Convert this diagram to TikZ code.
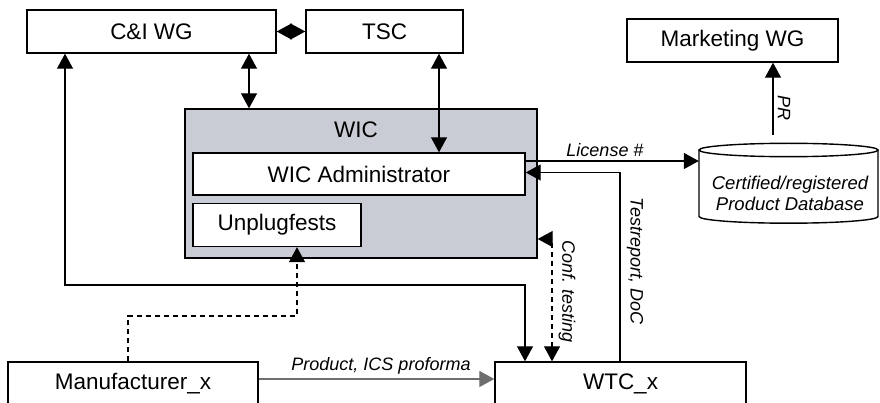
\documentclass[tikz,border=0pt]{standalone}
\usepackage{fontspec}
\setmainfont{Liberation Sans}
\usetikzlibrary{arrows.meta}
\definecolor{wicgray}{RGB}{201,204,212}
\definecolor{prodgray}{RGB}{110,110,110}
\begin{document}
\begin{tikzpicture}[x=1pt,y=-1pt,
  box/.style={draw, line width=1.4pt, fill=white, inner sep=0pt, minimum height=43pt,
    font=\fontsize{22.5}{26}\selectfont},
  conn/.style={line width=1.2pt, >={Triangle[length=15pt,width=16pt]}},
  dsh/.style={conn, dash pattern=on 5pt off 4pt},
  lbl/.style={font=\fontsize{18}{21}\selectfont\itshape, inner sep=0pt}]
\useasboundingbox (0,0) rectangle (880,403);
\clip (0,0) rectangle (880,403);

% boxes
\node[box, minimum width=249pt] (ci) at (151.5,31.5) {C\&I WG};
\node[box, minimum width=157pt] (tsc) at (384.5,31.5) {TSC};
\node[box, minimum width=211pt] (mkt) at (732.5,40.5) {Marketing WG};
\node[draw, line width=1.4pt, fill=wicgray, inner sep=0pt, minimum width=352pt, minimum height=149pt] (wic) at (361,183.5) {};
\node[font=\fontsize{22.5}{26}\selectfont, inner sep=0pt] (wiclbl) at (356,130) {WIC};
\node[box, minimum width=332pt, minimum height=42pt] (adm) at (359,174) {WIC Administrator};
\node[box, minimum width=168pt] (unp) at (277,225) {Unplugfests};
\node[box, minimum width=250pt] (man) at (133,383.5) {Manufacturer\_x};
\node[box, minimum width=251pt] (wtc) at (620.5,383.5) {WTC\_x};

% database cylinder
\node[inner sep=0pt, minimum width=179pt, minimum height=80pt] (db) at (788.5,183) {};
\draw[line width=1.4pt, fill=white] (699,150) -- (699,216.5)
  arc[start angle=180, end angle=0, x radius=89.5, y radius=6.7] -- (878,150);
\draw[line width=1.4pt] (788.5,150) ellipse [x radius=89.5, y radius=6.7];
\node[font=\fontsize{18.5}{21}\selectfont\itshape, align=center, inner sep=0pt] (dbtxt) at (790,193.5)
  {Certified/registered\\Product Database};

% helper coordinates
\coordinate (a1) at (439,0);
\coordinate (a2) at (249,0);
\coordinate (b1) at (65,285);
\coordinate (b2) at (525,285);
\coordinate (d1) at (128,316);
\coordinate (d2) at (297,316);
\coordinate (c1) at (552,239);
\coordinate (t1) at (620,172.5);
\coordinate (l1) at (0,161);
\coordinate (p1) at (773,135);
\coordinate (q1) at (0,379);

% connectors
\draw[conn,<->] (ci.east) -- (tsc.west);
\draw[conn,<->] (a2 |- ci.south) -- (a2 |- wic.north);
\draw[conn,<->] (a1 |- tsc.south) -- (a1 |- adm.north);
\draw[conn,<->] (ci.south -| b1) -- (b1) -- (b2) -- (b2 |- wtc.north);
\draw[dsh,->] (man.north -| d1) -- (d1) -- (d2) -- (d2 |- unp.south);
\draw[dsh,<->] (wtc.north -| c1) -- (c1) -- (c1 -| wic.east);
\draw[conn,->] (wtc.north -| t1) -- (t1) -- (t1 -| adm.east);
\draw[conn,->] (l1 -| adm.east) -- (l1 -| db.west);
\draw[conn,->] (p1) -- (p1 |- mkt.south);
\draw[conn,->,draw=prodgray] (q1 -| man.east) -- (q1 -| wtc.west);

% labels
\node[lbl] (lic) at (605,150) {License \#};
\node[lbl, rotate=-90] (tr) at (635,261) {Testreport, DoC};
\node[lbl, rotate=-90] (cf) at (567,291.5) {Conf. testing};
\node[lbl, rotate=-90] (pr) at (784,108) {PR};
\node[lbl] (prod) at (381,366) {Product, ICS proforma};
\end{tikzpicture}
\end{document}
